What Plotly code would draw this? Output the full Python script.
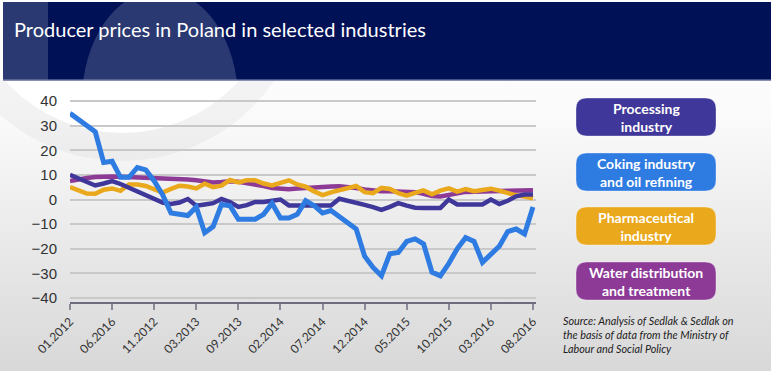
import base64
import plotly.graph_objects as go

# ---------------- data ----------------
months = list(range(56))
tick_pos = [0, 5, 10, 15, 20, 25, 30, 35, 40, 45, 50, 55]
tick_text = ["01.2012", "06.2016", "11.2012", "03.2013", "09.2013", "02.2014",
             "07.2014", "12.2014", "05.2015", "10.2015", "03.2016", "08.2016"]
y_ticks = [40, 30, 20, 10, 0, -10, -20, -30, -40]

processing = [10, 8.5, 7, 5.7, 6.5, 7.5, 6.3, 4.8, 3.3, 1.8, 0.3, -1.2, -1.8, -1.2, 0.2,
              -2.5, -2, -1.5, 0.2, -1, -3, -2.3, -1, -1, -0.5, 0, -2.4, -2.4, -2.4, -2.4,
              -2.4, -2.4, 0.3, -0.4, -1.3, -2.2, -3.1, -4.2, -3, -1.5, -2.5, -3.3, -3.4,
              -3.4, -3.4, 0, -2, -2, -2, -2, 0, -1.8, -0.5, 1.3, 2, 2]
coking = [35, 32.5, 30, 27.5, 15, 15.5, 9, 9, 13, 12, 7.5, 2, -5.5, -6, -6.5, -3, -13.5,
          -11, -2, -2.5, -8, -8, -8, -6, -1.5, -7.5, -7.5, -6, -0.5, -2.5, -5.5, -4.5, -7,
          -9.5, -12, -23, -27.6, -31, -22, -21.5, -17, -16, -18, -29.5, -31, -26, -20,
          -15.5, -17, -25.5, -22, -19, -13, -12, -14, -3]
pharma = [5, 3.7, 2.4, 2.3, 4, 4.5, 3.5, 6.1, 6.1, 5.5, 4.2, 2.8, 4.3, 5.6, 5.3, 4.5, 6.4,
          5, 5.6, 7.9, 6.9, 7.8, 7.8, 6.5, 5.7, 6.8, 7.8, 6.1, 5.2, 3.3, 1.8, 2.9, 3.7, 4.5,
          5.5, 3, 2.6, 4.7, 4.3, 2.6, 1.6, 2.7, 3.7, 2.1, 3.6, 4.5, 3.2, 4.2, 3.4, 3.9, 4.4,
          3.6, 2.6, 1.7, 1.2, 0.5]
water = [7.5, 8.2, 8.7, 9.1, 9.3, 9.3, 9.2, 9.1, 9, 8.9, 8.8, 8.7, 8.5, 8.3, 8.1, 7.8, 7.3,
         6.9, 7.1, 7.4, 7.2, 6.7, 6.2, 5.5, 4.7, 4.3, 4.2, 4.5, 4.8, 5, 5.2, 5.3, 5.4, 5.2,
         4.7, 4.1, 3.6, 3.4, 3.4, 3.4, 3.4, 3, 2.3, 1.4, 1.2, 1.8, 2.6, 3.1, 3.2, 3.3, 3.4,
         3.4, 3.5, 3.6, 3.7, 3.8]

series_names = ["Processing<br>industry", "Coking industry<br>and oil refining",
                "Pharmaceutical<br>industry", "Water distribution<br>and treatment"]
colors = {"processing": "#3f3799", "coking": "#2e7be2", "pharma": "#eaa81c", "water": "#8d3a97"}

title_text = "Producer prices in Poland in selected industries"
source_text = ("Source: Analysis of Sedlak &amp; Sedlak on<br>the basis of data from the Ministry of"
               "<br>Labour and Social Policy")

# ---------------- geometry ----------------
W, H = 771, 371
ML, MR, MT, MB = 70, 235, 100, 69
PW, PH = W - ML - MR, H - MT - MB


def px(x):
    return (x - ML) / PW


def py(y):
    return (H - MB - y) / PH


# ---------------- background svg ----------------
svg = f'''<svg xmlns="http://www.w3.org/2000/svg" width="{W}" height="{H}" viewBox="0 0 {W} {H}">
<defs>
<linearGradient id="g" x1="0" y1="0" x2="0" y2="1">
<stop offset="0" stop-color="#ffffff"/>
<stop offset="0.3" stop-color="#fbfbfb"/>
<stop offset="1" stop-color="#d8d8d8"/>
</linearGradient>
<clipPath id="hc"><rect x="3" y="2" width="768" height="78"/></clipPath>
<clipPath id="bc"><rect x="0" y="80" width="{W}" height="{H-80}"/></clipPath>
</defs>
<rect width="{W}" height="{H}" fill="url(#g)"/>
<g clip-path="url(#bc)">
<circle cx="122" cy="-24" r="185" fill="#000" fill-opacity="0.035"/>
<circle cx="122" cy="-24" r="157" fill="#ffffff"/>
</g>
<rect x="3" y="2" width="768" height="78" fill="#011156"/>
<g clip-path="url(#hc)" fill="#ffffff" fill-opacity="0.17">
<rect x="3" y="2" width="45" height="78"/>
<ellipse cx="160" cy="100" rx="78" ry="110"/>
</g>
<rect x="3" y="79.5" width="768" height="1.5" fill="#8a90b5"/>
</svg>'''
bg_src = "data:image/svg+xml;base64," + base64.b64encode(svg.encode()).decode()

fig = go.Figure()
widths = {"water": 4.5, "pharma": 4.5, "processing": 4.5, "coking": 5}
for key, vals in [("water", water), ("pharma", pharma), ("processing", processing), ("coking", coking)]:
    fig.add_trace(go.Scatter(x=months, y=vals, mode="lines",
                             line=dict(color=colors[key], width=widths[key]),
                             hoverinfo="skip", showlegend=False))

fig.add_layout_image(dict(source=bg_src, xref="paper", yref="paper",
                          x=px(0), y=py(0), sizex=W / PW, sizey=H / PH,
                          xanchor="left", yanchor="top", sizing="stretch", layer="below"))

# legend boxes
box_keys = ["processing", "coking", "pharma", "water"]
box_tops = [98, 153, 207, 262]
bx0, bx1, bh, rr = 576, 716, 38, 11


def rrect(x0, y0, x1, y1, r):
    def P(x, y):
        return f"{px(x):.5f},{py(y):.5f}"
    return (f"M {P(x0 + r, y0)} L {P(x1 - r, y0)} Q {P(x1, y0)} {P(x1, y0 + r)} "
            f"L {P(x1, y1 - r)} Q {P(x1, y1)} {P(x1 - r, y1)} L {P(x0 + r, y1)} "
            f"Q {P(x0, y1)} {P(x0, y1 - r)} L {P(x0, y0 + r)} Q {P(x0, y0)} {P(x0 + r, y0)} Z")


for key, name, top in zip(box_keys, series_names, box_tops):
    fig.add_shape(type="path", path=rrect(bx0, top, bx1, top + bh, rr), xref="paper", yref="paper",
                  fillcolor=colors[key], line=dict(color="rgba(255,255,255,0.35)", width=1))
    fig.add_annotation(x=px((bx0 + bx1) / 2), y=py(top + bh / 2), xref="paper", yref="paper",
                       text=f"<b>{name}</b>", showarrow=False, xanchor="center", yanchor="middle",
                       font=dict(family="Lato", size=14, color="white"), align="center")

fig.add_annotation(x=px(12), y=py(29), xref="paper", yref="paper", text=title_text,
                   showarrow=False, xanchor="left", yanchor="middle",
                   font=dict(family="Lato", size=20, color="white"))
fig.add_annotation(x=px(561), y=py(312), xref="paper", yref="paper", text=f"<i>{source_text}</i>",
                   showarrow=False, xanchor="left", yanchor="top", align="left",
                   font=dict(family="Lato", size=10.8, color="#222222"))

fig.update_layout(
    width=W, height=H, margin=dict(l=ML, r=MR, t=MT, b=MB, pad=0),
    paper_bgcolor="rgba(0,0,0,0)", plot_bgcolor="rgba(0,0,0,0)",
    xaxis=dict(range=[0, 55.36], tickvals=tick_pos, ticktext=tick_text, tickangle=-45,
               showgrid=False, zeroline=False, showline=True, linecolor="#6c6c7c", linewidth=2,
               ticks="outside", ticklen=6, tickwidth=2, tickcolor="#8a8a98",
               tickfont=dict(family="Lato", size=12, color="#333333")),
    yaxis=dict(range=[-41.62, 40.41], tickvals=y_ticks, showgrid=True, gridcolor="#c9c9c9",
               gridwidth=1.5, zeroline=False, showline=False, ticks="",
               ticklabelstandoff=12,
               tickfont=dict(family="Liberation Sans", size=15, color="#333333")),
)

fig.write_html("out.html", config={"displayModeBar": False},
               post_script="document.body.style.margin='0px';document.body.style.overflow='hidden';")
